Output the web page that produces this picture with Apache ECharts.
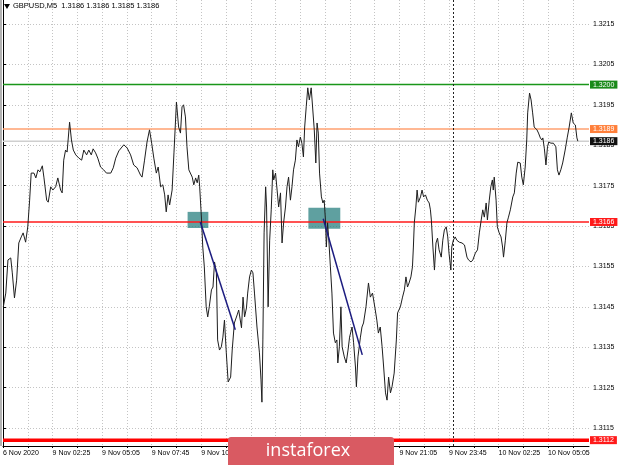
<!DOCTYPE html>
<html><head><meta charset="utf-8">
<script src="https://cdn.jsdelivr.net/npm/echarts@6/dist/echarts.min.js"></script>
<style>html,body{margin:0;padding:0;background:#fff}#c{width:620px;height:465px}</style>
</head><body><div id="c"></div>
<script>
// minutes since 6 Nov 23:45 (chart time)
const times = [1,9,16,25,30,37,44,51,59,65,73,80,86,91,100,106,113,119,127,132,141,146,154,161,170,177,186,191,196,202,207,215,221,227,235,245,254,261,270,277,285,291,299,306,315,325,334,348,356,364,374,390,401,412,422,433,444,449,457,465,473,480,487,495,501,509,516,522,527,533,538,546,552,560,567,573,578,583,589,594,600,611,616,622,627,632,635,641,645,650,656,661,666,673,678,683,689,693,699,705,710,715,721,727,735,740,747,756,761,767,770,775,780,786,790,796,802,807,812,820,828,833,836,839,843,848,851,856,861,866,871,874,880,885,890,896,901,906,912,917,922,928,933,938,944,949,954,960,965,970,974,979,984,989,995,1001,1005,1010,1014,1018,1022,1028,1033,1037,1041,1044,1048,1052,1057,1062,1067,1073,1078,1081,1086,1091,1095,1102,1108,1114,1119,1127,1132,1138,1141,1146,1154,1159,1164,1172,1180,1186,1193,1202,1207,1212,1218,1224,1229,1235,1240,1245,1251,1256,1263,1270,1274,1283,1290,1296,1301,1306,1311,1317,1322,1325,1328,1333,1337,1341,1348,1353,1358,1364,1370,1376,1380,1383,1388,1393,1398,1403,1408,1415,1420,1425,1431,1436,1440,1446,1449,1454,1460,1465,1473,1482,1490,1498,1503,1511,1517,1525,1532,1538,1544,1549,1554,1560,1564,1570,1575,1580,1583,1586,1592,1596,1602,1608,1613,1616,1622,1627,1632,1638,1646,1651,1657,1662,1670,1675,1680,1686,1691,1694,1700,1705,1710,1715,1724,1729,1735,1740,1743,1748,1753,1758,1762,1769,1777,1785,1790,1795,1801,1807,1815,1822,1828,1835,1841,1848,1853,1856];
const prices = [1.31450,1.31484,1.31566,1.31571,1.31534,1.31472,1.31516,1.31608,1.31623,1.31633,1.31610,1.31648,1.31714,1.31781,1.31781,1.31769,1.31789,1.31784,1.31799,1.31771,1.31714,1.31709,1.31747,1.31739,1.31747,1.31769,1.31739,1.31732,1.31813,1.31838,1.31833,1.31907,1.31863,1.31838,1.31826,1.31818,1.31813,1.31838,1.31826,1.31838,1.31826,1.31841,1.31831,1.31818,1.31796,1.31789,1.31781,1.31781,1.31794,1.31818,1.31836,1.31851,1.31843,1.31826,1.31801,1.31794,1.31776,1.31771,1.31813,1.31858,1.31888,1.31855,1.31818,1.31781,1.31796,1.31747,1.31752,1.31727,1.31685,1.31727,1.31702,1.31739,1.31831,1.31957,1.31895,1.31880,1.31945,1.31950,1.31920,1.31846,1.31789,1.31771,1.31752,1.31769,1.31757,1.31776,1.31747,1.31665,1.31598,1.31549,1.31450,1.31425,1.31450,1.31492,1.31499,1.31561,1.31534,1.31368,1.31343,1.31351,1.31375,1.31417,1.31336,1.31264,1.31276,1.31343,1.31410,1.31430,1.31442,1.31442,1.31398,1.31474,1.31425,1.31447,1.31484,1.31524,1.31541,1.31534,1.31484,1.31400,1.31336,1.31269,1.31214,1.31368,1.31633,1.31747,1.31697,1.31450,1.31615,1.31690,1.31789,1.31764,1.31781,1.31739,1.31697,1.31732,1.31608,1.31658,1.31697,1.31747,1.31771,1.31714,1.31747,1.31789,1.31813,1.31863,1.31846,1.31870,1.31855,1.31821,1.31895,1.31945,1.31992,1.31962,1.31992,1.31990,1.31888,1.31806,1.31905,1.31880,1.31781,1.31722,1.31707,1.31714,1.31665,1.31598,1.31658,1.31615,1.31549,1.31484,1.31385,1.31361,1.31368,1.31311,1.31351,1.31450,1.31351,1.31326,1.31311,1.31343,1.31375,1.31400,1.31361,1.31301,1.31252,1.31326,1.31375,1.31400,1.31410,1.31450,1.31509,1.31474,1.31484,1.31442,1.31417,1.31385,1.31400,1.31351,1.31301,1.31237,1.31219,1.31276,1.31237,1.31252,1.31286,1.31368,1.31435,1.31450,1.31474,1.31492,1.31524,1.31499,1.31509,1.31524,1.31549,1.31598,1.31658,1.31697,1.31739,1.31709,1.31722,1.31739,1.31722,1.31727,1.31714,1.31707,1.31690,1.31665,1.31598,1.31541,1.31608,1.31620,1.31591,1.31573,1.31615,1.31640,1.31648,1.31623,1.31583,1.31541,1.31598,1.31615,1.31623,1.31615,1.31610,1.31608,1.31603,1.31573,1.31566,1.31561,1.31566,1.31583,1.31591,1.31633,1.31665,1.31690,1.31672,1.31707,1.31665,1.31714,1.31747,1.31764,1.31739,1.31771,1.31714,1.31648,1.31633,1.31623,1.31598,1.31573,1.31615,1.31658,1.31672,1.31690,1.31722,1.31732,1.31781,1.31808,1.31806,1.31771,1.31752,1.31796,1.31863,1.31930,1.31979,1.31962,1.31930,1.31895,1.31888,1.31880,1.31868,1.31863,1.31868,1.31841,1.31801,1.31846,1.31858,1.31855,1.31855,1.31846,1.31789,1.31776,1.31789,1.31806,1.31838,1.31870,1.31895,1.31930,1.31905,1.31900,1.31868,1.31860];

const gridTimes = [0,80,160,240,320,400,480,560,640,720,800,880,960,1040,1120,1200,1280,1360,1440,1520,1600,1680,1760,1840];
const labelTimes = [0,160,320,480,640,800,960,1120,1280,1440,1600,1760];
const xLabels = ["6 Nov 2020","9 Nov 02:25","9 Nov 05:05","9 Nov 07:45","9 Nov 10:25","9 Nov 13:05","9 Nov 15:45","9 Nov 18:25","9 Nov 21:05","9 Nov 23:45","10 Nov 02:25","10 Nov 05:05"];
const yTicks = [1.3115,1.3125,1.3135,1.3145,1.3155,1.3165,1.3175,1.3185,1.3195,1.3205,1.3215];
const dayBreaks = [1455];

const levelPrices = [1.3200, 1.3189, 1.3186, 1.3166, 1.3112];
const levelLabels = ["1.3200","1.3189","1.3186","1.3166","1.3112"];
const trendStarts = [[637,1.31660],[1034,1.31668]];
const trendEnds = [[750,1.31393],[1160,1.31331]];
const zoneTimes = [[596,663],[986,1089]];
const zonePrices = [[1.31645,1.31685],[1.31643,1.31695]];
const headerText = "GBPUSD,M5  1.3186 1.3186 1.3185 1.3186";

const levelStyles = [
  {line:'#1a961a', width:1.5, bg:'#1a8a1a'},
  {line:'#ffa070', width:1.5, bg:'#ff7f3a'},
  {line:'#cfcfcf', width:1.5, bg:'#111111'},
  {line:'#ff1a1a', width:1.5, bg:'#ff1a1a'},
  {line:'#ff0000', width:3.5, bg:'#ff1a1a'}
];
const FONT = 'Liberation Sans';

const chart = echarts.init(document.getElementById('c'), null, {renderer:'canvas'});
const lineData = times.map((t,i)=>[t, prices[i]]);

const levelSeries = levelPrices.map((p,i)=>({
  type:'line', data:[[0,p],[1892,p]], silent:true, showSymbol:false, symbol:'none', z:2,
  lineStyle:{color:levelStyles[i].line, width:levelStyles[i].width},
  endLabel:{show:true, formatter:levelLabels[i], color:'#fff', backgroundColor:levelStyles[i].bg,
    padding:[1,3,0,3], fontSize:7, fontFamily:FONT, distance:1}
}));

chart.setOption({
  animation:false,
  backgroundColor:'#ffffff',
  grid:{left:2, right:31, top:0, bottom:19},
  xAxis:{
    type:'value', min:0, max:1892,
    axisLine:{show:true, lineStyle:{color:'#000', width:1}},
    axisTick:{show:true, customValues:gridTimes, length:2, lineStyle:{color:'#000'}},
    splitLine:{show:true, lineStyle:{color:'#c4c4c4', type:[1,2], width:1}},
    axisLabel:{customValues:labelTimes, align:'left', margin:4, fontSize:7, fontFamily:FONT, color:'#000',
      formatter:(v)=>{const i=labelTimes.indexOf(Math.round(v)); return i>=0?xLabels[i]:'';}}
  },
  yAxis:{
    type:'value', position:'right', min:1.311055, max:1.322094, scale:true,
    axisLine:{show:true, lineStyle:{color:'#000', width:1}},
    axisTick:{show:true, customValues:yTicks, length:3, lineStyle:{color:'#000'}},
    splitLine:{show:true, lineStyle:{color:'#c4c4c4', type:[1,2], width:1}},
    axisLabel:{customValues:yTicks, margin:4, fontSize:7, fontFamily:FONT, color:'#000',
      formatter:(v)=>v.toFixed(4)}
  },
  series: levelSeries.concat([
    {
      type:'line', data:lineData, showSymbol:false, symbol:'none',
      lineStyle:{color:'#1e1e1e', width:1}, z:3,
      markArea:{
        silent:true,
        itemStyle:{color:'rgba(42,128,128,0.75)'},
        data: zoneTimes.map((zt,i)=>[{coord:[zt[0], zonePrices[i][1]]},{coord:[zt[1], zonePrices[i][0]]}])
      },
      markLine:{
        silent:true, symbol:['none','none'], label:{show:false},
        data: trendStarts.map((s,i)=>[{coord:s, lineStyle:{color:'#1c1c80', width:1.5, type:'solid'}},{coord:trendEnds[i]}])
          .concat(dayBreaks.map(t=>({xAxis:t, lineStyle:{color:'#222', width:1, type:[2,2]}})))
      }
    }
  ]),
  graphic:[
    {type:'line', shape:{x1:1, y1:0, x2:1, y2:446}, style:{stroke:'#9a9a9a', lineWidth:1.5}, z:10},
    {type:'polygon', shape:{points:[[4,4],[10,4],[7,9]]}, style:{fill:'#000'}, z:10},
    {type:'text', left:13, top:2, style:{text:headerText, fontSize:7.5, fontFamily:FONT, fill:'#000'}, z:10},
    {type:'rect', shape:{x:228, y:437, width:166, height:30, r:[3,3,0,0]}, style:{fill:'#d95a62'}, z:20},
    {type:'text', x:308, y:451, style:{text:'instaforex', fontSize:18, fontFamily:'Open Sans', fill:'#fff', align:'center', verticalAlign:'middle'}, z:21}
  ]
});
</script></body></html>
